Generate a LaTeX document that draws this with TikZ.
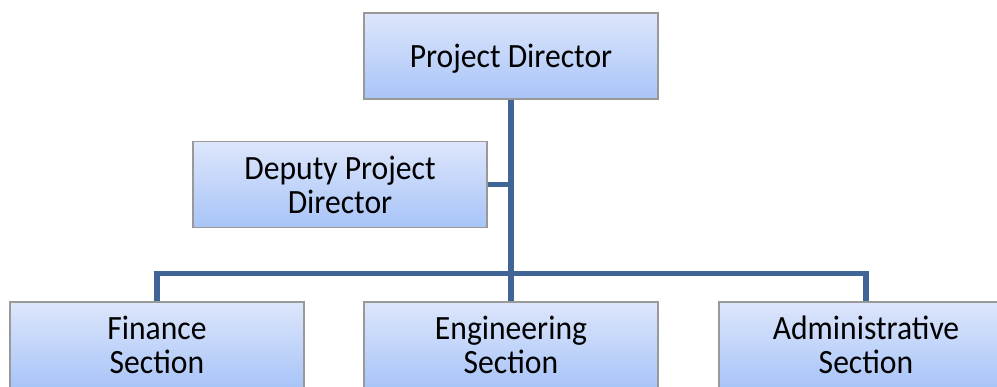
\documentclass[tikz,border=0pt]{standalone}
\usepackage{fontspec}
\setmainfont{Carlito}[FakeStretch=0.93]
\definecolor{boxtop}{RGB}{221,230,251}
\definecolor{boxbot}{RGB}{168,196,248}
\definecolor{boxline}{RGB}{153,153,153}
\definecolor{orgline}{RGB}{63,101,151}

\begin{document}
\begin{tikzpicture}[x=1pt,y=-1pt,
  unit/.style={draw=boxline,line width=1.6pt,top color=boxtop,bottom color=boxbot,
    minimum width=294pt,minimum height=86pt,inner sep=0pt,align=center,
    text depth=0pt,font=\fontsize{34}{34}\selectfont},
  link/.style={draw=orgline,line width=5.5pt}]
\useasboundingbox (0,0) rectangle (997,387);
\clip (0,0) rectangle (997,387);
% boxes
\node[unit] (pd) at (511,56) {Project Director};
\node[unit] (dpd) at (340,184.5) {Deputy Project\\Director};
\node[unit] (fin) at (157,345) {Finance\\Section};
\node[unit] (eng) at (511,345) {Engineering\\Section};
\node[unit] (adm) at (866,345) {Administrative\\Section};
% connectors
\coordinate (bus) at (511,273.5);
\draw[link] (pd.south) -- (eng.north);
\draw[link] (dpd.east) -- (dpd.east -| pd.south);
\draw[link] (fin.north) |- (bus) -| (adm.north);
\end{tikzpicture}
\end{document}
